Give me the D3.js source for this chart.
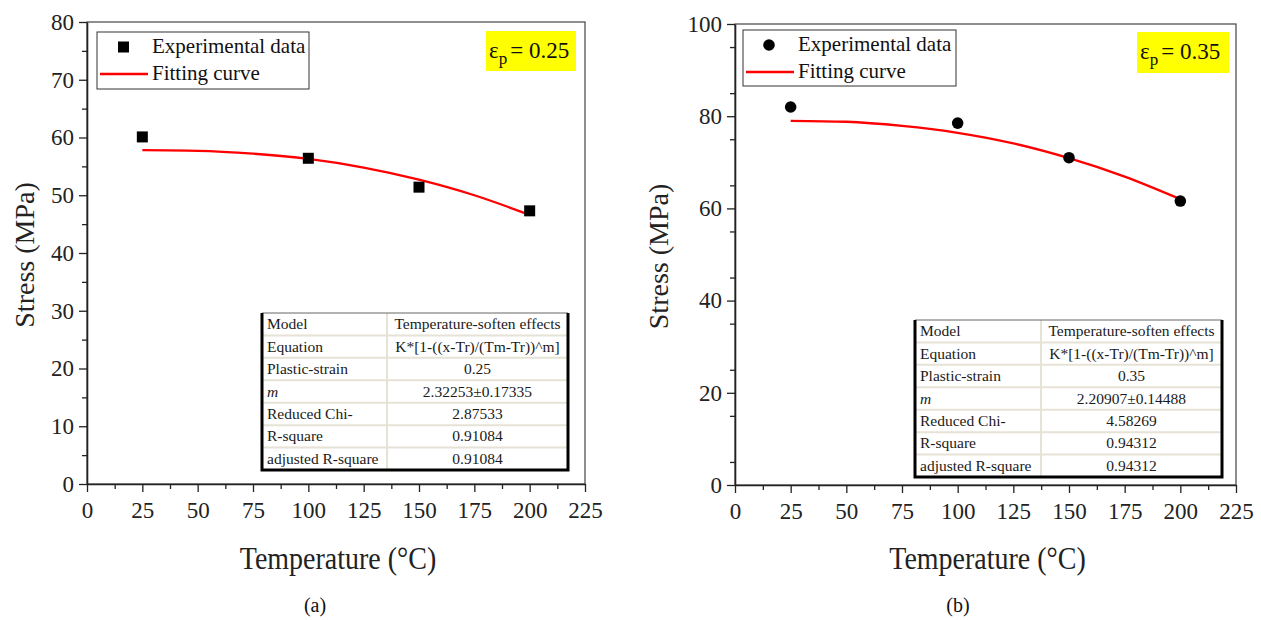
<!DOCTYPE html>
<html><head><meta charset="utf-8">
<script src="https://cdn.jsdelivr.net/npm/d3@7"></script>
<style>body{margin:0;background:#fff}svg{display:block}svg text{font-family:"Liberation Serif","Tinos","Times New Roman","DejaVu Serif",serif !important}</style>
</head><body><svg id="c" width="1261" height="620"></svg>
<script>
// ---- data ----
const xTicks = [0, 25, 50, 75, 100, 125, 150, 175, 200, 225];
const yTicksA = [0, 10, 20, 30, 40, 50, 60, 70, 80];
const yTicksB = [0, 20, 40, 60, 80, 100];
const tempsA = [25, 100, 150, 200];
const stressA = [60.1, 56.4, 51.4, 47.3];
const fitTempsA = [25, 50, 75, 100, 125, 150, 175, 200];
const fitStressA = [57.8, 57.7, 57.2, 56.3, 54.8, 52.7, 50.0, 46.6];
const tempsB = [25, 100, 150, 200];
const stressB = [82.0, 78.5, 71.0, 61.6];
const fitTempsB = [25, 50, 75, 100, 125, 150, 175, 200];
const fitStressB = [79.0, 78.8, 77.9, 76.4, 74.1, 70.9, 66.9, 62.0];
const tableLabels = ["Model", "Equation", "Plastic-strain", "m", "Reduced Chi-", "R-square", "adjusted R-square"];
const tableValuesA = ["Temperature-soften effects", "K*[1-((x-Tr)/(Tm-Tr))^m]", "0.25", "2.32253\u00B10.17335", "2.87533", "0.91084", "0.91084"];
const tableValuesB = ["Temperature-soften effects", "K*[1-((x-Tr)/(Tm-Tr))^m]", "0.35", "2.20907\u00B10.14488", "4.58269", "0.94312", "0.94312"];

const svg = d3.select("#c");
const SERIF = "Liberation Serif, Tinos, Times New Roman, DejaVu Serif, serif";

function panel(o) {
  const g = svg.append("g");
  const x = d3.scaleLinear().domain([0, 225]).range([o.x0, o.x1]);
  const y = d3.scaleLinear().domain([0, o.ymax]).range([o.y0, o.y1]);
  g.append("rect").attr("x", o.x0).attr("y", o.y1).attr("width", o.x1 - o.x0).attr("height", o.y0 - o.y1)
    .attr("fill", "none").attr("stroke", "#444").attr("stroke-width", 1.2);
  const minorX = d3.range(12.5, 225, 25);
  const minorY = d3.range(o.ystep / 2, o.ymax, o.ystep);
  g.append("g").attr("transform", `translate(0,${o.y0})`)
    .call(d3.axisBottom(x).tickValues(xTicks).tickSize(8).tickPadding(10).tickSizeOuter(0));
  g.append("g").attr("transform", `translate(0,${o.y0})`)
    .call(d3.axisBottom(x).tickValues(minorX).tickSize(5).tickFormat("").tickSizeOuter(0))
    .select(".domain").remove();
  g.append("g").attr("transform", `translate(${o.x0},0)`)
    .call(d3.axisLeft(y).tickValues(o.yTicks).tickSize(8).tickPadding(5).tickSizeOuter(0));
  g.append("g").attr("transform", `translate(${o.x0},0)`)
    .call(d3.axisLeft(y).tickValues(minorY).tickSize(5).tickFormat("").tickSizeOuter(0))
    .select(".domain").remove();
  g.selectAll("g").attr("font-family", SERIF);
  g.selectAll(".tick line").attr("stroke", "#222").attr("stroke-width", 1.3);
  g.selectAll(".domain").attr("stroke", "#222").attr("stroke-width", 1.6);
  g.selectAll(".tick text").attr("font-size", 23).attr("fill", "#222");
  const line = d3.line().x(d => x(d[0])).y(d => y(d[1])).curve(d3.curveMonotoneX);
  g.append("path").datum(o.fitT.map((t, i) => [t, o.fitS[i]]))
    .attr("d", line).attr("fill", "none").attr("stroke", "#ff0000").attr("stroke-width", 2.3);
  const pts = o.temps.map((t, i) => [t, o.stress[i]]);
  if (o.marker === "square") {
    g.selectAll("rect.pt").data(pts).enter().append("rect").attr("class", "pt")
      .attr("x", d => x(d[0]) - 5.5).attr("y", d => y(d[1]) - 5.5).attr("width", 11).attr("height", 11).attr("fill", "#000");
  } else {
    g.selectAll("circle.pt").data(pts).enter().append("circle").attr("class", "pt")
      .attr("cx", d => x(d[0])).attr("cy", d => y(d[1])).attr("r", 5.8).attr("fill", "#000");
  }
  const L = o.legend;
  g.append("rect").attr("x", L.x).attr("y", L.y).attr("width", L.w).attr("height", L.h)
    .attr("fill", "#fff").attr("stroke", "#333").attr("stroke-width", 1);
  if (o.marker === "square") {
    g.append("rect").attr("x", L.x + 21).attr("y", L.y + 9.5).attr("width", 11).attr("height", 11).attr("fill", "#000");
  } else {
    g.append("circle").attr("cx", L.x + 26).attr("cy", L.y + 15).attr("r", 5.8).attr("fill", "#000");
  }
  g.append("line").attr("x1", L.x + 3).attr("x2", L.x + 51).attr("y1", L.y + 42).attr("y2", L.y + 42)
    .attr("stroke", "#ff0000").attr("stroke-width", 2.3);
  g.append("text").attr("x", L.x + 55).attr("y", L.y + 21).attr("font-size", 21).attr("fill", "#111").text("Experimental data");
  g.append("text").attr("x", L.x + 55).attr("y", L.y + 48).attr("font-size", 21).attr("fill", "#111").text("Fitting curve");
  const E = o.eps;
  g.append("rect").attr("x", E.x).attr("y", E.y).attr("width", E.w).attr("height", E.h).attr("fill", "#ffff00");
  const et = g.append("text").attr("x", E.x + 3).attr("y", E.y + 27).attr("font-size", 23).attr("fill", "#111");
  et.append("tspan").text("\u03B5");
  et.append("tspan").attr("font-size", 17).attr("dy", 6).text("p");
  et.append("tspan").attr("dy", -6).attr("dx", 3).text("= " + o.epsVal);
  g.append("text").attr("transform", `translate(${o.ylabX},${(o.y0 + o.y1) / 2 + 2}) rotate(-90)`)
    .attr("text-anchor", "middle").attr("font-size", 28).attr("fill", "#222").text("Stress (MPa)");
  g.append("text").attr("transform", `translate(${(o.x0 + o.x1) / 2 + 2},569) scale(1,1.12)`).attr("text-anchor", "middle")
    .attr("font-size", 28).attr("fill", "#222").text("Temperature (\u00B0C)");
  g.append("text").attr("x", o.capX).attr("y", 612).attr("text-anchor", "middle")
    .attr("font-size", 20).attr("fill", "#111").text(o.cap);
  const T = o.table;
  const rh = (T.y1 - T.y0) / tableLabels.length;
  const tg = g.append("g");
  tg.append("rect").attr("x", T.x0).attr("y", T.y0).attr("width", T.x1 - T.x0).attr("height", T.y1 - T.y0).attr("fill", "#fff");
  tableLabels.forEach((lab, i) => {
    const yy = T.y0 + i * rh;
    if (i > 0) tg.append("line").attr("x1", T.x0).attr("x2", T.x1).attr("y1", yy).attr("y2", yy)
      .attr("stroke", "#e6e2d6").attr("stroke-width", 2);
    const t1 = tg.append("text").attr("x", T.x0 + 5).attr("y", yy + rh / 2 + 5).attr("font-size", 15.5).attr("fill", "#1a1a1a").text(lab);
    if (lab === "m") t1.attr("font-style", "italic");
    tg.append("text").attr("x", (T.xm + T.x1) / 2).attr("y", yy + rh / 2 + 5).attr("text-anchor", "middle")
      .attr("font-size", 15.5).attr("fill", "#1a1a1a").text(o.tvals[i]);
  });
  tg.append("line").attr("x1", T.xm).attr("x2", T.xm).attr("y1", T.y0).attr("y2", T.y1).attr("stroke", "#e6e2d6").attr("stroke-width", 2);
  tg.append("line").attr("x1", T.x0).attr("x2", T.x1).attr("y1", T.y0).attr("y2", T.y0).attr("stroke", "#666").attr("stroke-width", 1);
  tg.append("path").attr("d", `M${T.x0},${T.y0}V${T.y1}H${T.x1}V${T.y0}`).attr("fill", "none").attr("stroke", "#000").attr("stroke-width", 3);
}

panel({x0: 87, x1: 585, y0: 484, y1: 22, ymax: 80, ystep: 10, yTicks: yTicksA,
  temps: tempsA, stress: stressA, fitT: fitTempsA, fitS: fitStressA, marker: "square",
  legend: {x: 97, y: 32, w: 212, h: 57}, eps: {x: 486, y: 31, w: 90, h: 40}, epsVal: "0.25",
  ylabX: 34, capX: 315, cap: "(a)",
  table: {x0: 262, x1: 568, xm: 387, y0: 313, y1: 470}, tvals: tableValuesA});

panel({x0: 735, x1: 1236, y0: 485, y1: 24, ymax: 100, ystep: 10, yTicks: yTicksB,
  temps: tempsB, stress: stressB, fitT: fitTempsB, fitS: fitStressB, marker: "circle",
  legend: {x: 743, y: 30, w: 213, h: 56}, eps: {x: 1137, y: 32, w: 92, h: 41}, epsVal: "0.35",
  ylabX: 668, capX: 958, cap: "(b)",
  table: {x0: 915, x1: 1222, xm: 1041, y0: 320, y1: 477}, tvals: tableValuesB});
</script></body></html>
